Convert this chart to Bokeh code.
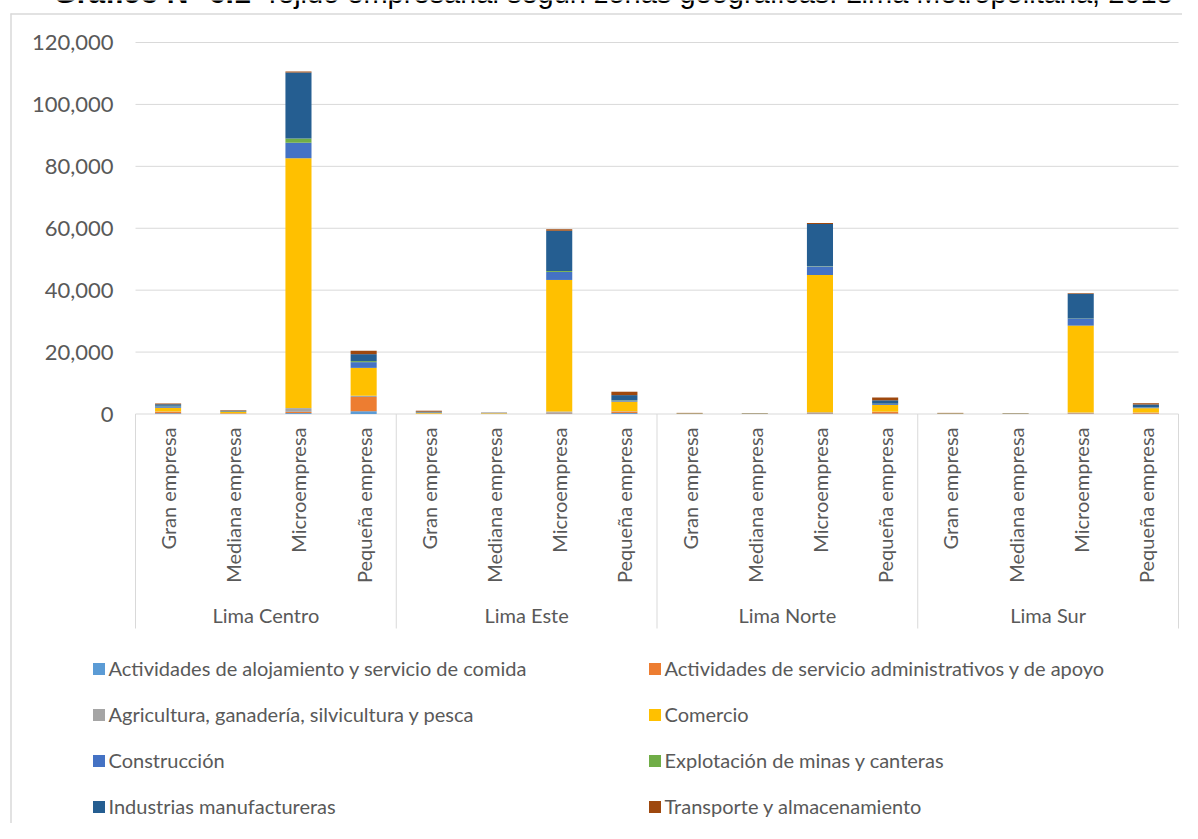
import numpy as np
from bokeh.plotting import figure
from bokeh.models import Range1d, ColumnDataSource, Legend, LegendItem
from bokeh.core.properties import value
from bokeh.embed import file_html
from bokeh.resources import INLINE

# ---------------- data ----------------
title_bold = "Gráfico N° 6.1"
title_rest = "Tejido empresarial según zonas geográficas: Lima Metropolitana, 2018"

zones = ["Lima Centro", "Lima Este", "Lima Norte", "Lima Sur"]
sizes = ["Gran empresa", "Mediana empresa", "Microempresa", "Pequeña empresa"]

sectors = [
    "Actividades de alojamiento y servicio de comida",
    "Actividades de servicio administrativos y de apoyo",
    "Agricultura, ganadería, silvicultura y pesca",
    "Comercio",
    "Construcción",
    "Explotación de minas y canteras",
    "Industrias manufactureras",
    "Transporte y almacenamiento",
]

# values per bar, zone-major: (Centro: Gran, Mediana, Micro, Pequeña), (Este ...), (Norte ...), (Sur ...)
alojamiento = [250, 60, 300, 900, 40, 30, 200, 300, 20, 20, 200, 150, 20, 20, 150, 100]
administrativos = [500, 150, 400, 4600, 80, 50, 200, 500, 40, 40, 200, 500, 40, 40, 150, 300]
agricultura = [60, 30, 1200, 400, 30, 60, 400, 100, 20, 60, 200, 100, 20, 60, 150, 80]
comercio = [1200, 450, 80700, 9000, 250, 150, 42500, 3100, 90, 80, 44300, 2200, 90, 80, 28100, 1400]
construccion = [500, 60, 5000, 1850, 80, 30, 2600, 400, 20, 20, 2700, 300, 20, 20, 2200, 250]
minas = [150, 20, 1400, 330, 30, 10, 300, 100, 10, 10, 100, 80, 10, 10, 80, 50]
manufactureras = [450, 250, 21300, 2250, 250, 80, 13000, 1600, 60, 60, 13700, 1100, 60, 60, 8000, 900]
transporte = [250, 200, 300, 1100, 300, 50, 500, 1100, 100, 30, 300, 900, 100, 30, 200, 400]

y_ticks = [0, 20000, 40000, 60000, 80000, 100000, 120000]

# ---------------- styles / layout ----------------
colors = ["#5B9BD5", "#ED7D31", "#A5A5A5", "#FFC000", "#4472C4", "#70AD47", "#255E91", "#9E480E"]
FONT = "Lato"
TXT = "#595959"
GRID = "#d9d9d9"

W, H = 1182, 823
X0_PX = 135.0                          # pixel x of x=0
PX_PER_X = (1178.0 - 135.0) / 16.0
Y0_PX = 413.5                          # pixel y of value 0
PX_PER_Y = (413.5 - 42.0) / 120000.0


def dx(px):
    return (px - X0_PX) / PX_PER_X


def dy(py):
    return (Y0_PX - py) / PX_PER_Y


series = [alojamiento, administrativos, agricultura, comercio,
          construccion, minas, manufactureras, transporte]

n_z, n_s = len(zones), len(sizes)
xpos = [z * n_s + s + 0.5 for z in range(n_z) for s in range(n_s)]
data = {"x": xpos}
for name, vals in zip(sectors, series):
    data[name] = vals
source = ColumnDataSource(data)

p = figure(width=W, height=H, output_backend="svg", toolbar_location=None,
           x_axis_location=None, y_axis_location=None,
           x_range=Range1d(dx(0), dx(W)), y_range=Range1d(dy(H), dy(0)),
           min_border=0)
p.outline_line_color = None
p.background_fill_color = "white"
p.border_fill_color = "white"
p.xgrid.visible = False
p.ygrid.visible = False
p.grid.grid_line_color = None

# chart border
p.segment(x0=[dx(10), dx(10.5)], y0=[dy(13.5), dy(13)], x1=[dx(W + 5), dx(10.5)], y1=[dy(13.5), dy(H + 5)],
          line_color=GRID, line_width=1.5)

# title (cut at the top, as in the reference)
p.text(x=[dx(53)], y=[dy(-8)], text=[title_bold], text_align="left", text_baseline="alphabetic",
       text_font=value("Liberation Sans"), text_font_style="bold", text_font_size="30px",
       text_color="#000000")
p.text(x=[dx(263)], y=[dy(-8)], text=[title_rest], text_align="left", text_baseline="alphabetic",
       text_font=value("Liberation Sans"), text_font_size="29px", text_color="#000000")

# gridlines and value labels
n_t = len(y_ticks)
p.segment(x0=[0] * n_t, y0=y_ticks, x1=[n_z * n_s] * n_t, y1=y_ticks,
          line_color=GRID, line_width=1)
p.text(x=[dx(113)] * n_t, y=y_ticks, text=[f"{v:,}" for v in y_ticks],
       text_align="right", text_baseline="middle", text_font=value(FONT),
       text_font_size="22px", text_color=TXT)

# bars
renderers = p.vbar_stack(sectors, x="x", width=0.4, source=source,
                         fill_color=colors, line_color=None)

# category axis (separators, rotated labels, group labels)
sep_x = [z * n_s for z in range(n_z + 1)]
p.segment(x0=sep_x, y0=[0] * len(sep_x), x1=sep_x, y1=[dy(628)] * len(sep_x),
          line_color=GRID, line_width=1)

sub_labels = [s for z in zones for s in sizes]
p.text(x=xpos, y=[dy(427)] * len(xpos), text=sub_labels, angle=np.pi / 2,
       text_align="right", text_baseline="middle", text_font=value(FONT),
       text_font_size="20px", text_color=TXT)

group_x = [z * n_s + n_s / 2 for z in range(n_z)]
p.text(x=group_x, y=[dy(614)] * n_z, text=zones, text_align="center",
       text_baseline="middle", text_font=value(FONT), text_font_size="20px",
       text_color=TXT)

# legend
items = [LegendItem(label=name, renderers=[r]) for name, r in zip(sectors, renderers)]
legend = Legend(items=items, orientation="horizontal", ncols=2,
                location=(90.5, H - 818),
                glyph_width=15, glyph_height=15, label_standoff=3,
                label_width=516, label_height=15, spacing=22, padding=0, margin=0,
                border_line_color=None, background_fill_alpha=0,
                label_text_font=FONT, label_text_font_size="20px",
                label_text_color=TXT)
p.add_layout(legend, "center")

open("out.html", "w").write(file_html(p, INLINE))
